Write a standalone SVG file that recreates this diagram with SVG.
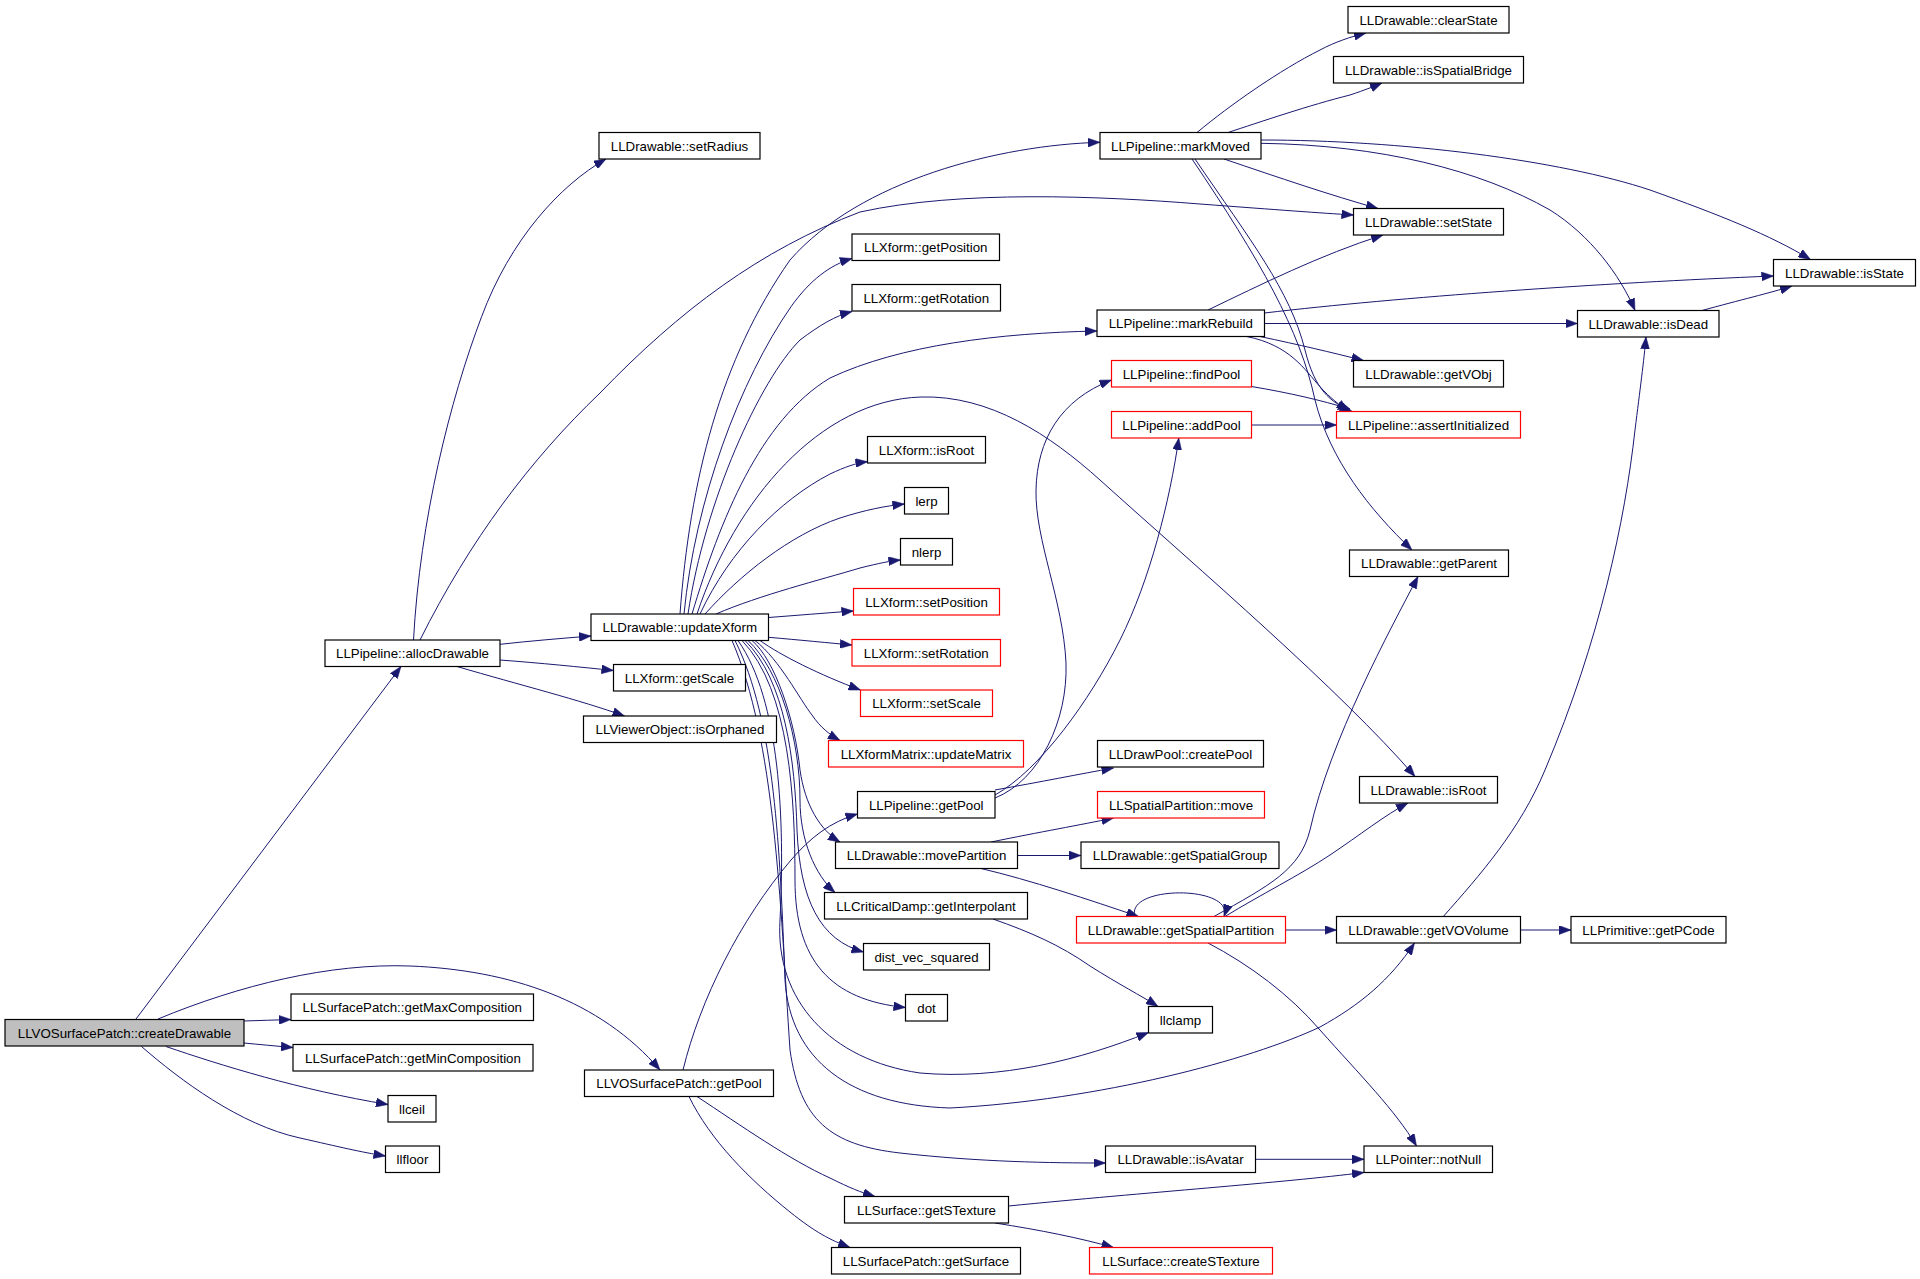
<svg xmlns="http://www.w3.org/2000/svg" width="1920" height="1279" viewBox="0 0 1920 1279">
<style>
.node rect{fill:#ffffff;stroke:#000000;stroke-width:1.2}
.node.red rect{stroke:#ff0000}
.node.gray rect{fill:#bfbfbf}
.node text{font-family:"Liberation Sans",Arial,sans-serif;font-size:13.3px;fill:#000000;text-anchor:middle}
#edges path{fill:none;stroke:#191970;stroke-width:1;marker-end:url(#arr)}
</style>
<defs>
<marker id="arr" markerUnits="userSpaceOnUse" markerWidth="12" markerHeight="9" refX="12" refY="4.5" orient="auto">
<path d="M0,0 L12,4.5 L0,9 z" fill="#191970" stroke="#191970" stroke-width="0.5"/>
</marker>
</defs>
<rect x="0" y="0" width="1920" height="1279" fill="#ffffff"/>
<g id="edges">
<path d="M136,1019 L401,666.5"/>
<path d="M244,1021 C260,1020.5 275,1020 291,1019.5"/>
<path d="M244,1043 C260,1044.5 275,1046 293,1047.5"/>
<path d="M166,1046.5 C220,1065 300,1090 388,1104.5"/>
<path d="M141.5,1046.5 C180,1080 240,1125 300,1138 C340,1147 360,1152 385.5,1156"/>
<path d="M158,1019 C240,985 330,963 410,966 C510,970 600,1000 660,1070"/>
<path d="M413.5,640 C420,520 450,400 481.6,316.7 C510,240 560,185 606,159"/>
<path d="M420,640 C470,540 530,460 600,393 C680,310 760,250 860,212 C960,190 1100,196 1200,204 C1280,210 1320,213 1353.5,215"/>
<path d="M500,644.3 C530,641 560,638.5 591,636"/>
<path d="M500,660 C540,663 580,667 613.5,670.5"/>
<path d="M457,666.5 C520,685 580,700 624.5,716"/>
<path d="M680,614 C690,480 720,360 790,260 C860,180 1000,145 1100,142.3"/>
<path d="M684,614 C695,500 740,380 791,306.7 C810,280 830,265 852,258.5"/>
<path d="M688,614 C705,500 760,380 800,340 C820,325 835,316 852,311.5"/>
<path d="M692,614 C720,520 760,420 830,378 C900,345 1000,333 1097,331"/>
<path d="M697,614 C735,500 820,400 921,397 C990,395 1050,435 1100,480 C1200,570 1340,690 1415,776.5"/>
<path d="M700,614 C730,550 780,500 830,474 C845,467 856,463 867.5,461.7"/>
<path d="M705,614 C740,575 790,535 840,518 C865,510 885,506 904.5,504"/>
<path d="M716,614 C760,595 820,580 860,568 C880,563 890,561 900.5,560"/>
<path d="M768.5,617.5 C795,615.5 825,613 853.5,611"/>
<path d="M768.5,637.3 C800,640 830,643 852,645"/>
<path d="M760,640.5 C780,655 820,675 860.5,690"/>
<path d="M755,640.5 C780,660 800,700 812,715 C820,727 830,735 840,740.5"/>
<path d="M752,640.5 C775,660 795,720 800,770 C805,805 820,830 840,842"/>
<path d="M748,640.5 C780,670 800,740 800,800 C800,840 815,875 835,892.5"/>
<path d="M745,640.5 C785,680 795,760 797,830 C800,900 820,940 863.5,952"/>
<path d="M742,640.5 C790,690 795,800 795,880 C795,960 830,1000 905.5,1007.5"/>
<path d="M738,640.5 C780,700 785,820 780,920 C775,1000 830,1060 920,1073 C1000,1080 1080,1060 1148.5,1032.5"/>
<path d="M735,640.5 C775,720 780,850 785,980 C790,1060 850,1105 950,1108 C1100,1100 1250,1060 1320,1027 C1360,1005 1390,980 1414.5,943"/>
<path d="M732,640.5 C775,740 780,900 790,1050 C800,1120 830,1145 900,1153 C980,1162 1050,1163 1105.5,1163"/>
<path d="M683,1070 C700,1000 740,920 791,860 C810,838 830,822 857.5,814"/>
<path d="M995,798 C1040,780 1068,720 1066,663 C1063,600 1035,540 1036,490 C1037,440 1060,400 1111.5,380"/>
<path d="M995,795 C1040,770 1090,700 1120,640 C1150,580 1170,500 1178.8,438"/>
<path d="M995,790 C1040,782 1080,774 1113.5,768"/>
<path d="M991,842 C1040,832 1080,825 1113.5,818"/>
<path d="M1017.5,855.5 L1081,855.5"/>
<path d="M981,868.5 C1030,880 1090,900 1138.5,916.5"/>
<path d="M1135,916.5 C1125,885 1235,885 1224,916.5"/>
<path d="M1214,916.5 C1270,885 1300,870 1310,830 C1330,740 1390,630 1418,576.5"/>
<path d="M1225,916.5 C1260,895 1300,875 1330,855 C1360,835 1385,815 1408,803"/>
<path d="M1285.5,930 L1336.5,930"/>
<path d="M1208,943 C1250,965 1290,995 1320,1030 C1360,1075 1395,1110 1416.5,1146"/>
<path d="M1520.5,930 L1571,930"/>
<path d="M1443.3,916.5 C1480,875 1520,830 1545,770 C1600,640 1625,520 1635,430 C1640,390 1644,360 1646,337"/>
<path d="M1702,310.5 C1740,300 1770,293 1792,286"/>
<path d="M1197,132.5 C1230,105 1280,70 1320,50 C1335,42 1350,37 1366,33"/>
<path d="M1228,132.5 C1260,122 1310,105 1350,95 C1365,90 1375,86 1382,83"/>
<path d="M1261,140 C1400,140 1560,160 1650,190 C1720,215 1770,235 1810.5,259.5"/>
<path d="M1261,143.3 C1380,145 1480,170 1550,210 C1590,235 1620,275 1635,310.5"/>
<path d="M1224,159 C1280,178 1330,195 1378,208.5"/>
<path d="M1192,159 C1260,260 1300,330 1315,400 C1330,460 1370,510 1412,550"/>
<path d="M1195,159 C1250,240 1290,290 1305,350 C1315,390 1330,402 1352,411.5"/>
<path d="M1246.5,336.5 C1290,345 1305,370 1320,386.7 C1330,398 1340,405 1348,411.5"/>
<path d="M1260,336.5 C1300,345 1330,352 1363.5,360.5"/>
<path d="M1251.5,386.5 C1290,393 1320,400 1350,409"/>
<path d="M1251.5,425 L1336.5,425"/>
<path d="M1208,310 C1260,285 1320,255 1383,235"/>
<path d="M1264.5,313 C1400,297 1600,283 1773.5,276"/>
<path d="M1264.5,323.5 L1577.5,323.5"/>
<path d="M697,1096.5 C740,1125 790,1160 830,1178 C850,1188 860,1192 875,1196.5"/>
<path d="M689,1096.5 C710,1140 750,1180 790,1212 C815,1232 830,1240 850,1247.5"/>
<path d="M1008.5,1206 C1150,1192 1280,1183 1364,1172.5"/>
<path d="M995,1223 C1040,1230 1080,1238 1113.5,1247.5"/>
<path d="M1255.5,1159.3 L1364,1159.3"/>
<path d="M993,919 C1030,932 1060,945 1090,966 C1120,985 1140,995 1158,1006.5"/>
</g>
<g id="n_cd" class="node gray"><rect x="5" y="1019.5" width="239" height="26.5"/><text x="124.5" y="1037.5">LLVOSurfacePatch::createDrawable</text></g>
<g id="n_alloc" class="node"><rect x="325" y="640" width="175" height="26.5"/><text x="412.5" y="658">LLPipeline::allocDrawable</text></g>
<g id="n_setRadius" class="node"><rect x="599" y="132.5" width="161" height="26.5"/><text x="679.5" y="150.5">LLDrawable::setRadius</text></g>
<g id="n_updX" class="node"><rect x="591" y="614" width="177.5" height="26.5"/><text x="679.75" y="632">LLDrawable::updateXform</text></g>
<g id="n_getScale" class="node"><rect x="613.5" y="664.5" width="132" height="26.5"/><text x="679.5" y="682.5">LLXform::getScale</text></g>
<g id="n_isOrph" class="node"><rect x="583.5" y="716" width="193" height="26.5"/><text x="680" y="734">LLViewerObject::isOrphaned</text></g>
<g id="n_maxC" class="node"><rect x="291" y="994" width="242.5" height="26.5"/><text x="412.25" y="1012">LLSurfacePatch::getMaxComposition</text></g>
<g id="n_minC" class="node"><rect x="293" y="1044.5" width="240" height="26.5"/><text x="413" y="1062.5">LLSurfacePatch::getMinComposition</text></g>
<g id="n_llceil" class="node"><rect x="388" y="1095.5" width="48" height="26.5"/><text x="412" y="1113.5">llceil</text></g>
<g id="n_llfloor" class="node"><rect x="385.5" y="1146" width="54" height="26.5"/><text x="412.5" y="1164">llfloor</text></g>
<g id="n_vospool" class="node"><rect x="584.5" y="1070" width="189" height="26.5"/><text x="679" y="1088">LLVOSurfacePatch::getPool</text></g>
<g id="n_markMoved" class="node"><rect x="1100" y="132.5" width="161" height="26.5"/><text x="1180.5" y="150.5">LLPipeline::markMoved</text></g>
<g id="n_getPos" class="node"><rect x="852" y="234" width="147.5" height="26.5"/><text x="925.75" y="252">LLXform::getPosition</text></g>
<g id="n_getRot" class="node"><rect x="852" y="284.5" width="148.5" height="26.5"/><text x="926.25" y="302.5">LLXform::getRotation</text></g>
<g id="n_markRebuild" class="node"><rect x="1097" y="310" width="167.5" height="26.5"/><text x="1180.75" y="328">LLPipeline::markRebuild</text></g>
<g id="n_findPool" class="node red"><rect x="1111.5" y="360.5" width="140" height="26.5"/><text x="1181.5" y="378.5">LLPipeline::findPool</text></g>
<g id="n_addPool" class="node red"><rect x="1111.5" y="411.5" width="140" height="26.5"/><text x="1181.5" y="429.5">LLPipeline::addPool</text></g>
<g id="n_xIsRoot" class="node"><rect x="867.5" y="436.5" width="118" height="26.5"/><text x="926.5" y="454.5">LLXform::isRoot</text></g>
<g id="n_lerp" class="node"><rect x="904.5" y="487.5" width="44" height="26.5"/><text x="926.5" y="505.5">lerp</text></g>
<g id="n_nlerp" class="node"><rect x="900.5" y="538.5" width="52" height="26.5"/><text x="926.5" y="556.5">nlerp</text></g>
<g id="n_setPos" class="node red"><rect x="853.5" y="588.5" width="146" height="26.5"/><text x="926.5" y="606.5">LLXform::setPosition</text></g>
<g id="n_setRot" class="node red"><rect x="852" y="639.5" width="148.5" height="26.5"/><text x="926.25" y="657.5">LLXform::setRotation</text></g>
<g id="n_setScale" class="node red"><rect x="860.5" y="690" width="132" height="26.5"/><text x="926.5" y="708">LLXform::setScale</text></g>
<g id="n_updMatrix" class="node red"><rect x="828.5" y="740.5" width="195" height="26.5"/><text x="926" y="758.5">LLXformMatrix::updateMatrix</text></g>
<g id="n_plGetPool" class="node"><rect x="857.5" y="791.5" width="137.5" height="26.5"/><text x="926.25" y="809.5">LLPipeline::getPool</text></g>
<g id="n_movePart" class="node"><rect x="835.5" y="842" width="182" height="26.5"/><text x="926.5" y="860">LLDrawable::movePartition</text></g>
<g id="n_getInterp" class="node"><rect x="824.5" y="892.5" width="203" height="26.5"/><text x="926" y="910.5">LLCriticalDamp::getInterpolant</text></g>
<g id="n_distVec" class="node"><rect x="863.5" y="943.5" width="126" height="26.5"/><text x="926.5" y="961.5">dist_vec_squared</text></g>
<g id="n_dot" class="node"><rect x="905.5" y="994.5" width="42" height="26.5"/><text x="926.5" y="1012.5">dot</text></g>
<g id="n_isAvatar" class="node"><rect x="1105.5" y="1146" width="150" height="26.5"/><text x="1180.5" y="1164">LLDrawable::isAvatar</text></g>
<g id="n_getSTex" class="node"><rect x="844.5" y="1196.5" width="164" height="26.5"/><text x="926.5" y="1214.5">LLSurface::getSTexture</text></g>
<g id="n_getSurface" class="node"><rect x="831.5" y="1247.5" width="189" height="26.5"/><text x="926" y="1265.5">LLSurfacePatch::getSurface</text></g>
<g id="n_createPool" class="node"><rect x="1097.5" y="740.5" width="166" height="26.5"/><text x="1180.5" y="758.5">LLDrawPool::createPool</text></g>
<g id="n_spMove" class="node red"><rect x="1097.5" y="791.5" width="167" height="26.5"/><text x="1181" y="809.5">LLSpatialPartition::move</text></g>
<g id="n_getSpGroup" class="node"><rect x="1081" y="842" width="198" height="26.5"/><text x="1180" y="860">LLDrawable::getSpatialGroup</text></g>
<g id="n_getSpPart" class="node red"><rect x="1076.5" y="916.5" width="209" height="26.5"/><text x="1181" y="934.5">LLDrawable::getSpatialPartition</text></g>
<g id="n_llclamp" class="node"><rect x="1148.5" y="1006.5" width="64" height="26.5"/><text x="1180.5" y="1024.5">llclamp</text></g>
<g id="n_createSTex" class="node red"><rect x="1089.5" y="1247.5" width="183" height="26.5"/><text x="1181" y="1265.5">LLSurface::createSTexture</text></g>
<g id="n_clearState" class="node"><rect x="1348" y="6.5" width="161" height="26.5"/><text x="1428.5" y="24.5">LLDrawable::clearState</text></g>
<g id="n_isSpBridge" class="node"><rect x="1333.5" y="56.5" width="190" height="26.5"/><text x="1428.5" y="74.5">LLDrawable::isSpatialBridge</text></g>
<g id="n_setState" class="node"><rect x="1353.5" y="208.5" width="150" height="26.5"/><text x="1428.5" y="226.5">LLDrawable::setState</text></g>
<g id="n_getVObj" class="node"><rect x="1353.5" y="360.5" width="150" height="26.5"/><text x="1428.5" y="378.5">LLDrawable::getVObj</text></g>
<g id="n_assertInit" class="node red"><rect x="1336.5" y="411.5" width="184" height="26.5"/><text x="1428.5" y="429.5">LLPipeline::assertInitialized</text></g>
<g id="n_getParent" class="node"><rect x="1349.5" y="550" width="159" height="26.5"/><text x="1429" y="568">LLDrawable::getParent</text></g>
<g id="n_dIsRoot" class="node"><rect x="1359.5" y="776.5" width="138" height="26.5"/><text x="1428.5" y="794.5">LLDrawable::isRoot</text></g>
<g id="n_getVOVol" class="node"><rect x="1336.5" y="916.5" width="184" height="26.5"/><text x="1428.5" y="934.5">LLDrawable::getVOVolume</text></g>
<g id="n_notNull" class="node"><rect x="1364" y="1146" width="128.5" height="26.5"/><text x="1428.25" y="1164">LLPointer::notNull</text></g>
<g id="n_isState" class="node"><rect x="1773.5" y="259.5" width="142" height="26.5"/><text x="1844.5" y="277.5">LLDrawable::isState</text></g>
<g id="n_isDead" class="node"><rect x="1577.5" y="310.5" width="141.5" height="26.5"/><text x="1648.25" y="328.5">LLDrawable::isDead</text></g>
<g id="n_getPCode" class="node"><rect x="1571" y="916.5" width="155" height="26.5"/><text x="1648.5" y="934.5">LLPrimitive::getPCode</text></g>
</svg>
